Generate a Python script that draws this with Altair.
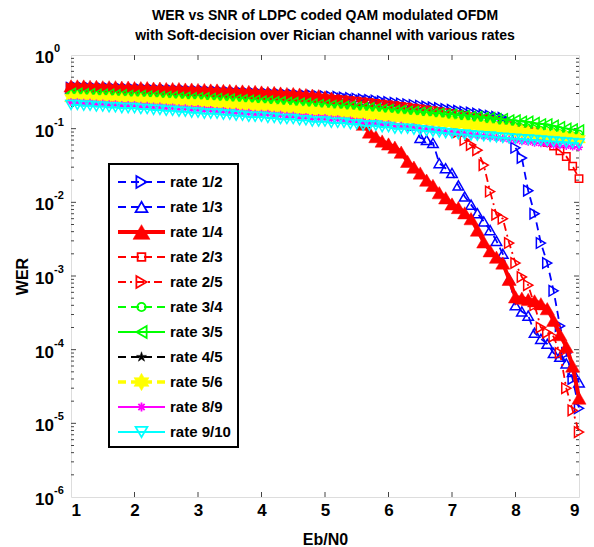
import altair as alt
import pandas as pd

# ---------------- data ----------------
EBN0 = [1.0, 1.1, 1.2, 1.3, 1.4, 1.5, 1.6, 1.7, 1.8, 1.9,
        2.0, 2.1, 2.2, 2.3, 2.4, 2.5, 2.6, 2.7, 2.8, 2.9,
        3.0, 3.1, 3.2, 3.3, 3.4, 3.5, 3.6, 3.7, 3.8, 3.9,
        4.0, 4.1, 4.2, 4.3, 4.4, 4.5, 4.6, 4.7, 4.8, 4.9,
        5.0, 5.1, 5.2, 5.3, 5.4, 5.5, 5.6, 5.7, 5.8, 5.9,
        6.0, 6.1, 6.2, 6.3, 6.4, 6.5, 6.6, 6.7, 6.8, 6.9,
        7.0, 7.1, 7.2, 7.3, 7.4, 7.5, 7.6, 7.7, 7.8, 7.9,
        8.0, 8.1, 8.2, 8.3, 8.4, 8.5, 8.6, 8.7, 8.8, 8.9, 9.0]

WER_1_2 = [0.36, 0.36, 0.355, 0.355, 0.35, 0.35, 0.35, 0.345, 0.345, 0.34,
           0.34, 0.34, 0.335, 0.335, 0.33, 0.33, 0.33, 0.325, 0.325, 0.32,
           0.32, 0.32, 0.315, 0.315, 0.31, 0.31, 0.305, 0.305, 0.30, 0.30,
           0.295, 0.295, 0.29, 0.29, 0.285, 0.285, 0.28, 0.28, 0.28, 0.275,
           0.275, 0.27, 0.27, 0.265, 0.26, 0.255, 0.25, 0.245, 0.24, 0.235,
           0.23, 0.225, 0.22, 0.215, 0.21, 0.205, 0.20, 0.195, 0.19, 0.185,
           0.18, 0.175, 0.17, 0.165, 0.16, 0.155, 0.15, 0.145, 0.14, 0.125,
           0.055, 0.04, 0.0144, 0.007, 0.0028, 0.0015, 0.00063, 0.00021, 0.00009, 0.00004, 0.000016]

WER_1_3 = [0.35, 0.35, 0.345, 0.345, 0.34, 0.34, 0.34, 0.335, 0.335, 0.33,
           0.33, 0.33, 0.325, 0.325, 0.32, 0.32, 0.32, 0.315, 0.315, 0.31,
           0.31, 0.31, 0.305, 0.305, 0.30, 0.30, 0.295, 0.295, 0.29, 0.29,
           0.285, 0.285, 0.28, 0.28, 0.28, 0.275, 0.275, 0.27, 0.27, 0.27,
           0.265, 0.26, 0.26, 0.255, 0.25, 0.245, 0.24, 0.235, 0.23, 0.22,
           0.21, 0.20, 0.19, 0.16, 0.11, 0.075, 0.07, 0.064, 0.034, 0.029,
           0.025, 0.017, 0.012, 0.0093, 0.0071, 0.0055, 0.0042, 0.003, 0.002, 0.0009,
           0.0004, 0.00033, 0.00029, 0.00017, 0.00014, 0.00012, 0.00009, 0.00008, 0.000065, 0.00005, 0.000036]

WER_1_4 = [0.38, 0.38, 0.38, 0.375, 0.375, 0.37, 0.37, 0.37, 0.365, 0.365,
           0.36, 0.36, 0.36, 0.355, 0.355, 0.35, 0.35, 0.35, 0.345, 0.345,
           0.34, 0.34, 0.335, 0.335, 0.33, 0.33, 0.325, 0.325, 0.32, 0.32,
           0.315, 0.31, 0.31, 0.305, 0.30, 0.30, 0.295, 0.29, 0.285, 0.28,
           0.27, 0.26, 0.245, 0.22, 0.19, 0.15, 0.115, 0.09, 0.078, 0.068,
           0.062, 0.056, 0.048, 0.036, 0.03, 0.025, 0.02, 0.017, 0.0135, 0.0115,
           0.0095, 0.0085, 0.0072, 0.006, 0.0042, 0.0029, 0.0022, 0.0018, 0.0015, 0.0009,
           0.00052, 0.0005, 0.00048, 0.00046, 0.00042, 0.00036, 0.00025, 0.00016, 0.00011, 0.00006, 0.000022]

WER_2_3 = [0.355, 0.355, 0.35, 0.35, 0.345, 0.345, 0.34, 0.34, 0.335, 0.335,
           0.33, 0.33, 0.325, 0.325, 0.32, 0.32, 0.315, 0.315, 0.31, 0.31,
           0.305, 0.305, 0.30, 0.30, 0.295, 0.295, 0.29, 0.29, 0.285, 0.285,
           0.28, 0.28, 0.275, 0.275, 0.27, 0.27, 0.265, 0.265, 0.26, 0.26,
           0.255, 0.25, 0.25, 0.245, 0.24, 0.235, 0.23, 0.225, 0.22, 0.215,
           0.21, 0.205, 0.20, 0.195, 0.19, 0.185, 0.18, 0.175, 0.17, 0.165,
           0.16, 0.155, 0.15, 0.145, 0.14, 0.135, 0.13, 0.125, 0.12, 0.11,
           0.105, 0.10, 0.095, 0.09, 0.08, 0.065, 0.058, 0.05, 0.042, 0.031, 0.021]

WER_2_5 = [0.35, 0.35, 0.345, 0.345, 0.34, 0.34, 0.335, 0.335, 0.33, 0.33,
           0.325, 0.325, 0.32, 0.32, 0.315, 0.315, 0.31, 0.31, 0.305, 0.305,
           0.30, 0.30, 0.295, 0.295, 0.29, 0.29, 0.285, 0.285, 0.28, 0.28,
           0.275, 0.275, 0.27, 0.27, 0.265, 0.265, 0.26, 0.26, 0.255, 0.255,
           0.25, 0.245, 0.245, 0.24, 0.235, 0.23, 0.225, 0.22, 0.215, 0.21,
           0.205, 0.20, 0.195, 0.19, 0.185, 0.18, 0.175, 0.17, 0.165, 0.155,
           0.13, 0.09, 0.07, 0.06, 0.051, 0.032, 0.014, 0.0068, 0.006, 0.0028,
           0.0015, 0.00097, 0.00075, 0.0004, 0.0002, 0.00017, 0.00015, 0.00009, 0.00003, 0.000015, 0.0000076]

WER_3_4 = [0.29, 0.29, 0.285, 0.285, 0.28, 0.28, 0.28, 0.275, 0.275, 0.27,
           0.27, 0.27, 0.265, 0.265, 0.26, 0.26, 0.255, 0.255, 0.25, 0.25,
           0.245, 0.245, 0.24, 0.24, 0.235, 0.235, 0.23, 0.23, 0.225, 0.225,
           0.22, 0.22, 0.215, 0.215, 0.21, 0.21, 0.205, 0.205, 0.20, 0.20,
           0.195, 0.19, 0.19, 0.185, 0.185, 0.18, 0.18, 0.175, 0.175, 0.17,
           0.17, 0.165, 0.165, 0.16, 0.16, 0.155, 0.155, 0.15, 0.15, 0.145,
           0.145, 0.14, 0.14, 0.135, 0.135, 0.13, 0.13, 0.125, 0.12, 0.12,
           0.115, 0.115, 0.11, 0.105, 0.105, 0.10, 0.097, 0.094, 0.09, 0.087, 0.084]

WER_3_5 = [0.30, 0.30, 0.295, 0.295, 0.29, 0.29, 0.29, 0.285, 0.285, 0.28,
           0.28, 0.28, 0.275, 0.275, 0.27, 0.27, 0.27, 0.265, 0.265, 0.26,
           0.26, 0.26, 0.255, 0.255, 0.25, 0.25, 0.245, 0.245, 0.24, 0.24,
           0.235, 0.235, 0.23, 0.23, 0.225, 0.225, 0.22, 0.22, 0.215, 0.21,
           0.21, 0.205, 0.205, 0.20, 0.20, 0.195, 0.19, 0.19, 0.185, 0.18,
           0.18, 0.175, 0.175, 0.17, 0.17, 0.165, 0.165, 0.16, 0.16, 0.155,
           0.155, 0.15, 0.15, 0.145, 0.145, 0.14, 0.14, 0.135, 0.135, 0.13,
           0.13, 0.125, 0.125, 0.12, 0.115, 0.115, 0.11, 0.105, 0.10, 0.098, 0.095]

WER_4_5 = [0.27, 0.27, 0.265, 0.265, 0.26, 0.26, 0.26, 0.255, 0.255, 0.25,
           0.25, 0.245, 0.245, 0.24, 0.24, 0.235, 0.235, 0.23, 0.23, 0.225,
           0.225, 0.22, 0.22, 0.215, 0.215, 0.21, 0.21, 0.205, 0.205, 0.20,
           0.20, 0.195, 0.195, 0.19, 0.19, 0.185, 0.185, 0.18, 0.18, 0.175,
           0.175, 0.17, 0.17, 0.165, 0.165, 0.16, 0.16, 0.155, 0.155, 0.15,
           0.15, 0.145, 0.145, 0.14, 0.14, 0.135, 0.135, 0.13, 0.13, 0.125,
           0.125, 0.12, 0.12, 0.115, 0.115, 0.11, 0.11, 0.105, 0.105, 0.10,
           0.10, 0.097, 0.094, 0.091, 0.088, 0.085, 0.082, 0.079, 0.076, 0.073, 0.07]

WER_5_6 = [0.26, 0.26, 0.255, 0.255, 0.25, 0.25, 0.25, 0.245, 0.245, 0.24,
           0.24, 0.24, 0.235, 0.235, 0.23, 0.23, 0.225, 0.225, 0.22, 0.22,
           0.22, 0.215, 0.215, 0.21, 0.21, 0.205, 0.205, 0.20, 0.20, 0.195,
           0.195, 0.19, 0.19, 0.185, 0.185, 0.18, 0.18, 0.175, 0.175, 0.17,
           0.17, 0.165, 0.165, 0.16, 0.16, 0.155, 0.155, 0.15, 0.15, 0.145,
           0.145, 0.14, 0.14, 0.135, 0.135, 0.13, 0.13, 0.125, 0.125, 0.12,
           0.12, 0.115, 0.115, 0.11, 0.11, 0.105, 0.105, 0.10, 0.10, 0.097,
           0.094, 0.091, 0.088, 0.086, 0.084, 0.082, 0.08, 0.078, 0.076, 0.074, 0.072]

WER_8_9 = [0.23, 0.23, 0.225, 0.225, 0.22, 0.22, 0.215, 0.215, 0.21, 0.21,
           0.21, 0.205, 0.205, 0.20, 0.20, 0.195, 0.195, 0.19, 0.19, 0.185,
           0.185, 0.18, 0.18, 0.175, 0.175, 0.17, 0.17, 0.165, 0.165, 0.16,
           0.16, 0.16, 0.155, 0.155, 0.15, 0.15, 0.145, 0.145, 0.14, 0.14,
           0.14, 0.135, 0.135, 0.13, 0.13, 0.125, 0.125, 0.12, 0.12, 0.115,
           0.115, 0.11, 0.11, 0.105, 0.105, 0.10, 0.10, 0.097, 0.094, 0.091,
           0.089, 0.087, 0.085, 0.083, 0.081, 0.079, 0.077, 0.075, 0.073, 0.071,
           0.069, 0.067, 0.066, 0.064, 0.063, 0.062, 0.06, 0.059, 0.058, 0.057, 0.056]

WER_9_10 = [0.21, 0.21, 0.205, 0.205, 0.20, 0.20, 0.195, 0.195, 0.19, 0.19,
            0.19, 0.185, 0.185, 0.18, 0.18, 0.175, 0.175, 0.17, 0.17, 0.165,
            0.165, 0.16, 0.16, 0.16, 0.155, 0.155, 0.15, 0.15, 0.145, 0.145,
            0.145, 0.14, 0.14, 0.135, 0.135, 0.135, 0.13, 0.13, 0.125, 0.125,
            0.125, 0.12, 0.12, 0.12, 0.115, 0.115, 0.11, 0.11, 0.11, 0.105,
            0.105, 0.10, 0.10, 0.10, 0.097, 0.095, 0.093, 0.091, 0.089, 0.087,
            0.086, 0.084, 0.083, 0.081, 0.08, 0.079, 0.078, 0.076, 0.075, 0.074,
            0.073, 0.072, 0.071, 0.07, 0.069, 0.068, 0.067, 0.066, 0.065, 0.064, 0.063]

RATES = ["rate 1/2", "rate 1/3", "rate 1/4", "rate 2/3", "rate 2/5", "rate 3/4",
         "rate 3/5", "rate 4/5", "rate 5/6", "rate 8/9", "rate 9/10"]
SERIES = [WER_1_2, WER_1_3, WER_1_4, WER_2_3, WER_2_5, WER_3_4,
          WER_3_5, WER_4_5, WER_5_6, WER_8_9, WER_9_10]

X_TICKS = [1, 2, 3, 4, 5, 6, 7, 8, 9]
DECADES = [1, 1e-1, 1e-2, 1e-3, 1e-4, 1e-5, 1e-6]
EXPONENTS = ["0", "-1", "-2", "-3", "-4", "-5", "-6"]

# ---------------- styling ----------------
FONT = "Liberation Sans"
STAR = "M0,-1L0.2245,-0.309L0.951,-0.309L0.363,0.118L0.588,0.809L0,0.382L-0.588,0.809L-0.363,0.118L-0.951,-0.309L-0.2245,-0.309Z"
HEXA = "M0,-1L0.289,-0.5L0.866,-0.5L0.577,0L0.866,0.5L0.289,0.5L0,1L-0.289,0.5L-0.866,0.5L-0.577,0L-0.866,-0.5L-0.289,-0.5Z"
ASTER = "M-1,0L1,0M0,-1L0,1M-0.7,-0.7L0.7,0.7M-0.7,0.7L0.7,-0.7"
DASH = [8, 5]
DASHDOT = [8, 4, 2, 4]

STYLES = [
    dict(color="#0000FF", dash=DASH, lw=1.8, shape="triangle-right", filled=False, size=110, lsize=140),
    dict(color="#0000FF", dash=DASH, lw=1.8, shape="triangle-up", filled=False, size=110, lsize=140),
    dict(color="#FF0000", dash=None, lw=4.0, shape="triangle-up", filled=True, size=200, lsize=290),
    dict(color="#FF0000", dash=DASH, lw=1.8, shape="square", filled=False, size=55, lsize=60),
    dict(color="#FF0000", dash=DASHDOT, lw=1.8, shape="triangle-right", filled=False, size=110, lsize=140),
    dict(color="#00FF00", dash=DASH, lw=1.8, shape="circle", filled=False, size=55, lsize=70),
    dict(color="#00FF00", dash=None, lw=1.8, shape="triangle-left", filled=False, size=110, lsize=140),
    dict(color="#000000", dash=DASH, lw=1.8, shape=STAR, filled=True, size=80, lsize=110),
    dict(color="#FFFF00", dash=DASH, lw=3.5, shape=HEXA, filled=True, size=220, lsize=300),
    dict(color="#FF00FF", dash=None, lw=1.8, shape=ASTER, filled=False, size=60, lsize=80),
    dict(color="#00FFFF", dash=None, lw=2.2, shape="triangle-down", filled=False, size=110, lsize=140),
]

W, H = 508, 442

rows = []
for name, vals in zip(RATES, SERIES):
    for e, v in zip(EBN0, vals):
        rows.append({"rate": name, "ebn0": e, "wer": v})
df = pd.DataFrame(rows)

xscale = alt.Scale(domain=[1, 9], nice=False, zero=False)
yscale = alt.Scale(type="log", domain=[1e-6, 1], nice=False)

X = alt.X("ebn0:Q", scale=xscale,
          axis=alt.Axis(values=X_TICKS, format="d", ticks=False, domain=False, grid=False,
                        labelFont=FONT, labelFontSize=17, labelFontWeight="bold",
                        labelColor="black", labelPadding=5,
                        title="Eb/N0", titleFont=FONT, titleFontSize=16, titleFontWeight="bold",
                        titleColor="black", titleX=W / 2, titleY=42, titleBaseline="middle"))
Y = alt.Y("wer:Q", scale=yscale,
          axis=alt.Axis(labels=False, ticks=False, domain=False, grid=False,
                        title="WER", titleFont=FONT, titleFontSize=16, titleFontWeight="bold",
                        titleColor="black", titleX=-49, titleY=H / 2, titleBaseline="middle"))

layers = []

# inward ticks (MATLAB style) drawn through the scales
xt = pd.DataFrame({"ebn0": X_TICKS[1:-1]})
tick_color = "#444444"
layers.append(alt.Chart(xt).mark_rule(color=tick_color, strokeWidth=1).encode(
    x=X, y=alt.value(H), y2=alt.value(H - 5)))
layers.append(alt.Chart(xt).mark_rule(color=tick_color, strokeWidth=1).encode(
    x=X, y=alt.value(0), y2=alt.value(5)))
major = pd.DataFrame({"wer": DECADES[1:-1]})
minor = pd.DataFrame({"wer": [m * d for d in DECADES[1:] for m in range(2, 10)]})
for dfx, ln in ((major, 5), (minor, 3)):
    layers.append(alt.Chart(dfx).mark_rule(color=tick_color, strokeWidth=1).encode(
        y=Y, x=alt.value(0), x2=alt.value(ln)))
    layers.append(alt.Chart(dfx).mark_rule(color=tick_color, strokeWidth=1).encode(
        y=Y, x=alt.value(W), x2=alt.value(W - ln)))

# y tick labels 10^k
dec = pd.DataFrame({"wer": DECADES, "exp": EXPONENTS})
layers.append(alt.Chart(dec).mark_text(align="right", baseline="middle", dy=3,
                                       font=FONT, fontSize=17, fontWeight="bold", color="black").encode(
    y=Y, x=alt.value(-17), text=alt.value("10")))
layers.append(alt.Chart(dec).mark_text(align="left", baseline="middle", dy=-6,
                                       font=FONT, fontSize=11, fontWeight="bold", color="black").encode(
    y=Y, x=alt.value(-17), text="exp:N"))

# data series
for name, st in zip(RATES, STYLES):
    base = alt.Chart(df).transform_filter(alt.datum.rate == name)
    lkw = dict(color=st["color"], strokeWidth=st["lw"], clip=False)
    if st["dash"]:
        lkw["strokeDash"] = st["dash"]
    layers.append(base.mark_line(**lkw).encode(x=X, y=Y))
    pkw = dict(shape=st["shape"], size=st["size"], filled=st["filled"], opacity=1,
               strokeWidth=1.5, clip=False)
    if st["filled"]:
        pkw["fill"] = st["color"]
        pkw["stroke"] = st["color"]
        pkw["strokeWidth"] = 0.5
    else:
        pkw["stroke"] = st["color"]
        pkw["fill"] = "transparent"
    layers.append(base.mark_point(**pkw).encode(x=X, y=Y))

# legend box
one = pd.DataFrame({"k": [0]})
LX0, LX1, LY0, LY1 = 38, 167, 109, 392
layers.append(alt.Chart(one).mark_rect(fill="white", stroke="black", strokeWidth=2).encode(
    x=alt.value(LX0), x2=alt.value(LX1), y=alt.value(LY0), y2=alt.value(LY1)))
for i, (name, st) in enumerate(zip(RATES, STYLES)):
    yy = 127 + 25 * i
    lkw = dict(color=st["color"], strokeWidth=st["lw"])
    if st["dash"]:
        lkw["strokeDash"] = st["dash"]
    layers.append(alt.Chart(one).mark_rule(**lkw).encode(
        x=alt.value(47), x2=alt.value(94), y=alt.value(yy)))
    pkw = dict(shape=st["shape"], size=st["lsize"], filled=st["filled"], opacity=1, strokeWidth=1.8)
    if st["filled"]:
        pkw["fill"] = st["color"]
        pkw["stroke"] = st["color"]
        pkw["strokeWidth"] = 0.5
    else:
        pkw["stroke"] = st["color"]
        pkw["fill"] = "transparent"
    layers.append(alt.Chart(one).mark_point(**pkw).encode(x=alt.value(70.5), y=alt.value(yy)))
    layers.append(alt.Chart(one).mark_text(align="left", baseline="middle", font=FONT,
                                           fontSize=15, fontWeight="bold", color="black").encode(
        x=alt.value(99), y=alt.value(yy), text=alt.value(name)))

chart = alt.layer(*layers).properties(
    width=W, height=H,
    padding={"left": 71, "top": 55, "right": 15, "bottom": 50},
    autosize=alt.AutoSizeParams(type="none"),
    title=alt.Title(
        text=["WER vs SNR of LDPC coded QAM modulated OFDM",
              "with Soft-decision over Rician channel with various rates"],
        font=FONT, fontSize=14, fontWeight="bold", color="black",
        anchor="middle", frame="group", offset=0, lineHeight=20),
).configure_view(stroke="black", strokeWidth=1.5).configure(background="white")

chart.save("out.html", embed_options={"renderer": "svg", "actions": False})
